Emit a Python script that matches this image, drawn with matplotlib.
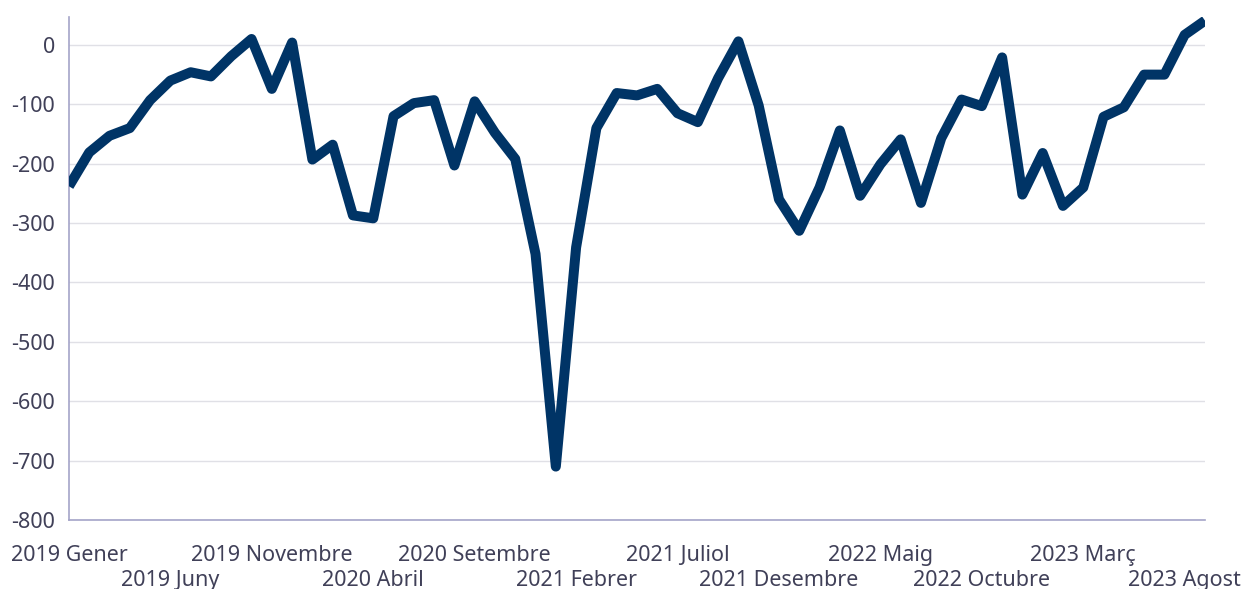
import numpy as np
import matplotlib.pyplot as plt

plt.rcParams['font.family'] = ['Noto Sans', 'DejaVu Sans']

# monthly values, 2019 Gener .. 2023 Setembre
values = [-238, -181, -153, -140, -93, -60, -46, -53, -19, 10,
          -74, 4, -193, -168, -287, -292, -120, -98, -93, -203,
          -95, -148, -192, -352, -710, -341, -140, -81, -85, -74,
          -115, -130, -56, 6, -102, -260, -313, -240, -144, -254,
          -201, -159, -266, -157, -92, -103, -21, -252, -182, -271,
          -240, -121, -105, -50, -50, 17, 41]

tick_pos = [0, 5, 10, 15, 20, 25, 30, 35, 40, 45, 50, 55]
tick_labels = ["2019 Gener", "2019 Juny", "2019 Novembre", "2020 Abril",
               "2020 Setembre", "2021 Febrer", "2021 Juliol", "2021 Desembre",
               "2022 Maig", "2022 Octubre", "2023 Març", "2023 Agost"]

y_ticks = [0, -100, -200, -300, -400, -500, -600, -700, -800]

text_color = "#404058"
spine_color = "#a4a4c8"

fig = plt.figure(figsize=(12.47, 5.89), dpi=100)
ax = fig.add_axes([0.0553, 0.1171, 0.9110, 0.8540])

x = np.arange(len(values))
ax.plot(x, values, color="#003466", linewidth=7.2, solid_joinstyle="round",
        solid_capstyle="butt", zorder=3)

ax.set_xlim(0, len(values) - 1)
ax.set_ylim(-800, 47)

ax.set_yticks(y_ticks)
ax.set_yticklabels([str(v) for v in y_ticks])

# alternate the month labels over two rows
ax.set_xticks(tick_pos[0::2], tick_labels[0::2])
ax.set_xticks(tick_pos[1::2], tick_labels[1::2], minor=True)

ax.grid(axis="y", color="#e0e0e6", linewidth=1)
ax.set_axisbelow(True)
ax.tick_params(axis="both", which="both", length=0, labelsize=15.5,
               colors=text_color)
ax.tick_params(axis="x", which="major", pad=18)
ax.tick_params(axis="x", which="minor", pad=36)
ax.tick_params(axis="y", pad=10)

for side in ["top", "right"]:
    ax.spines[side].set_visible(False)
for side in ["left", "bottom"]:
    ax.spines[side].set_color(spine_color)
    ax.spines[side].set_linewidth(1.2)

fig.savefig("out.png", dpi=100)
